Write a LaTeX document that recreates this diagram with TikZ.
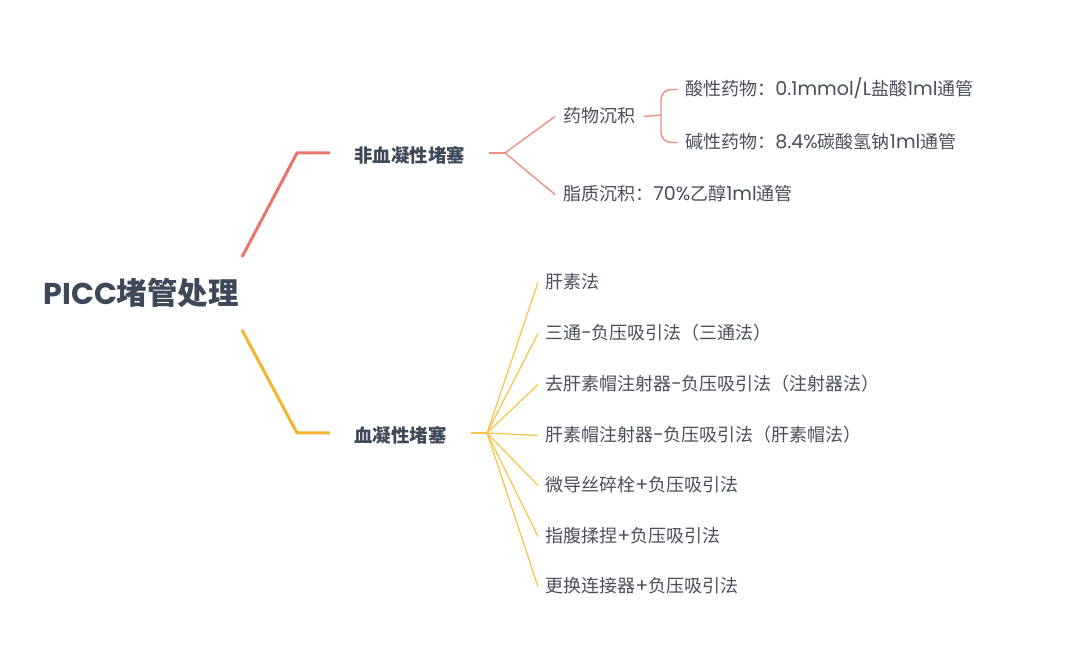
\documentclass[tikz,border=0pt]{standalone}
\usepackage{fontspec}
\setmainfont{Noto Sans CJK SC}
\newfontfamily\latnfont[Scale=1.06]{Poppins}
\newcommand\latn[1]{{\latnfont #1}}
\definecolor{txt}{HTML}{4A4F5C}
\definecolor{ttl}{HTML}{3D4859}
\definecolor{redA}{HTML}{E8766A}
\definecolor{redB}{HTML}{EE8F84}
\definecolor{ylwA}{HTML}{F2B531}
\definecolor{ylwB}{HTML}{F5C448}
\begin{document}
\begin{tikzpicture}[x=0.5pt,y=-0.5pt,
  base/.style={anchor=west,text=txt,inner ysep=0pt,text height=0.8em,text depth=0.2em,yshift=-0.75pt},
  rootnode/.style={base,font=\fontsize{15.2}{18}\selectfont\bfseries,text=ttl,inner xsep=0pt,yshift=-2.2pt},
  midnode/.style={base,font=\fontsize{9.2}{11}\selectfont\bfseries,text=ttl,inner xsep=12pt},
  leaf/.style={base,font=\fontsize{9}{11}\selectfont,inner xsep=3.5pt},
  sub/.style={base,font=\fontsize{9}{11}\selectfont,inner xsep=4pt},
  redthick/.style={draw=redA,line width=1.5pt,line join=round},
  redthin/.style={draw=redB,line width=0.7pt,line join=round},
  ylwthick/.style={draw=ylwA,line width=1.5pt,line join=round},
  ylwthin/.style={draw=ylwB,line width=0.6pt},
]
\useasboundingbox[fill=white] (0,0) rectangle (1080,672);

% root
\node[rootnode] (root) at (43,293) {{\latnfont\fontsize{14.2}{18}\selectfont PICC}堵管处理};

% level 1
\node[midnode] (nb) at (330,155) {非血凝性堵塞};
\node[midnode] (bl) at (330,435) {血凝性堵塞};

\coordinate (r0) at (242,257);
\coordinate (y0) at (242,330);
\draw[redthick] (r0) -- (297,153) -- (nb.west |- 0,153);
\draw[ylwthick] (y0) -- (297,433) -- (bl.west |- 0,433);

% non-blood branch
\node[sub] (drug) at (555,115) {药物沉积};
\node[sub] (lipid) at (555,193) {脂质沉积：\latn{70\%}乙醇\latn{1ml}通管};
\coordinate (f1) at (505,153);
\draw[redthin] (nb.east |- 0,153) -- (f1);
\draw[redthin] (f1) -- (drug.west);
\draw[redthin] (f1) -- (lipid.west);

\node[leaf] (acid) at (678,88) {酸性药物：\latn{0.1mmol/L}盐酸\latn{1ml}通管};
\node[leaf] (alk) at (678,141) {碱性药物：\latn{8.4\%}碳酸氢钠\latn{1ml}通管};
\coordinate (k1) at (661,115);
\draw[redthin] (drug.east) -- (k1);
\draw[redthin,rounded corners=5pt] (acid.west) -| (k1) |- (alk.west);

% blood branch
\node[leaf] (l1) at (538,281) {肝素法};
\node[leaf] (l2) at (538,332) {三通\latn{-}负压吸引法（三通法）};
\node[leaf] (l3) at (538,383) {去肝素帽注射器\latn{-}负压吸引法（注射器法）};
\node[leaf] (l4) at (538,434) {肝素帽注射器\latn{-}负压吸引法（肝素帽法）};
\node[leaf] (l5) at (538,484) {微导丝碎栓\latn{+}负压吸引法};
\node[leaf] (l6) at (538,535) {指腹揉捏\latn{+}负压吸引法};
\node[leaf] (l7) at (538,585) {更换连接器\latn{+}负压吸引法};
\coordinate (f2) at (487,433);
\draw[ylwthin,line width=1pt] (bl.east |- 0,433) -- (f2);
\foreach \n in {l1,l2,l3,l4,l5,l6,l7}{
  \draw[ylwthin] (f2) -- (\n.west);
}
\end{tikzpicture}
\end{document}
